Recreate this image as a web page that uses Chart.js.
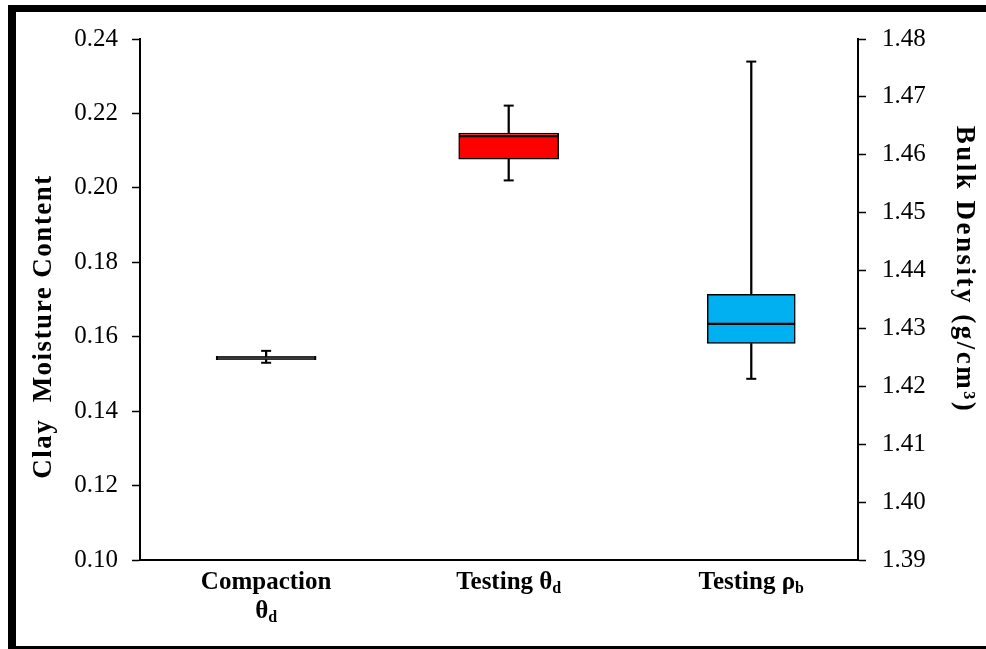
<!DOCTYPE html>
<html>
<head>
<meta charset="utf-8">
<script src="https://cdn.jsdelivr.net/npm/chart.js@4"></script>
<style>
  body { margin: 0; background: #fff; overflow: hidden; }
  #wrap { position: absolute; left: 0; top: 0; width: 986px; height: 649px; }
  #frame {
    position: absolute; left: 8px; top: 5px; width: 1000px; height: 634px;
    border-top: 7px solid #000; border-left: 8px solid #000; border-bottom: 7px solid #000;
    pointer-events: none;
  }
</style>
</head>
<body>
<div id="wrap"><canvas id="chart"></canvas></div>
<div id="frame"></div>
<script>
// categories, "_" marks a one-letter subscript
const categoryLines = [['Compaction', 'θ_d'], ['Testing θ_d'], ['Testing ρ_b']]
const categories = ['Compaction θd', 'Testing θd', 'Testing ρb']

// box statistics (first two on the moisture axis, last on the density axis)
const minValues = [0.1530, 0.2020, 1.4213]
const q1Values = [0.1538, 0.2077, 1.4274]
const medianValues = [0.1543, 0.2139, 1.4308]
const q3Values = [0.1547, 0.2147, 1.4359]
const maxValues = [0.1562, 0.2221, 1.4761]
const valueAxis = ['y', 'y', 'y2']
const boxColors = ['#000000', '#FF0000', '#00B0F0']

const moistureTicks = { min: 0.10, max: 0.24, step: 0.02 }
const densityTicks = { min: 1.39, max: 1.48, step: 0.01 }
const moistureTitle = 'Clay  Moisture Content'
const densityTitle = 'Bulk Density (g/cm³)'

const FONT = "'Liberation Serif', 'Times New Roman', serif"

// one point per category that belongs to this axis, x = category index
function pick(axis, fn) {
  return categories
    .map((_, i) => valueAxis[i] === axis ? { x: i, y: fn(i) } : null)
    .filter(p => p)
}

function colorsFor(axis) {
  return categories.map((_, i) => boxColors[i]).filter((_, i) => valueAxis[i] === axis)
}

function boxSets(axis, width) {
  const fill = colorsFor(axis)
  return [
    {
      type: 'bar', yAxisID: axis, grouped: false, order: 0,
      data: pick(axis, i => [q1Values[i], medianValues[i]]),
      backgroundColor: fill, borderColor: '#000', borderWidth: 1.5,
      borderSkipped: false, barThickness: width
    },
    {
      type: 'bar', yAxisID: axis, grouped: false, order: 0,
      data: pick(axis, i => [medianValues[i], q3Values[i]]),
      backgroundColor: fill, borderColor: '#000', borderWidth: 1.5,
      borderSkipped: false, barThickness: width
    },
    {
      type: 'bar', yAxisID: axis, grouped: false, order: 1,
      data: pick(axis, i => [minValues[i], q1Values[i]]),
      backgroundColor: '#000', borderWidth: 0, barThickness: 1.6
    },
    {
      type: 'bar', yAxisID: axis, grouped: false, order: 1,
      data: pick(axis, i => [q3Values[i], maxValues[i]]),
      backgroundColor: '#000', borderWidth: 0, barThickness: 1.6
    },
    {
      type: 'line', yAxisID: axis, order: 0, showLine: false,
      data: pick(axis, i => minValues[i]),
      pointStyle: 'line', pointRadius: 5, pointBorderWidth: 2, pointBorderColor: '#000'
    },
    {
      type: 'line', yAxisID: axis, order: 0, showLine: false,
      data: pick(axis, i => maxValues[i]),
      pointStyle: 'line', pointRadius: 5, pointBorderWidth: 2, pointBorderColor: '#000'
    }
  ]
}

// x labels with subscripts and the two rotated axis titles
const textLayer = {
  id: 'textLayer',
  afterDraw(chart) {
    const ctx = chart.ctx
    const area = chart.chartArea
    const xScale = chart.scales.x
    const mainFont = 'bold 25px ' + FONT
    const subFont = 'bold 16px ' + FONT
    ctx.save()
    ctx.fillStyle = '#000'
    ctx.textBaseline = 'middle'
    ctx.textAlign = 'left'
    categoryLines.forEach((lines, i) => {
      const cx = xScale.getPixelForValue(i)
      lines.forEach((line, j) => {
        const parts = line.split('_')
        const main = parts[0]
        const sub = parts.length > 1 ? parts[1] : ''
        ctx.font = mainFont
        const wMain = ctx.measureText(main).width
        ctx.font = subFont
        const wSub = sub ? ctx.measureText(sub).width : 0
        const x = cx - (wMain + wSub) / 2
        const y = xScale.top + 23 + j * 29
        ctx.font = mainFont
        ctx.fillText(main, x, y)
        if (sub) {
          ctx.font = subFont
          ctx.fillText(sub, x + wMain, y + 6)
        }
      })
    })

    const midY = (area.top + area.bottom) / 2
    ctx.textAlign = 'center'
    ctx.font = 'bold 27px ' + FONT

    ctx.save()
    ctx.letterSpacing = '1.5px'
    ctx.translate(chart.scales.y.left + 44, midY + 27)
    ctx.rotate(-Math.PI / 2)
    ctx.fillText(moistureTitle, 0, 0)
    ctx.restore()

    ctx.save()
    ctx.letterSpacing = '2.5px'
    ctx.translate(chart.scales.y2.right - 22, midY - 30)
    ctx.rotate(Math.PI / 2)
    ctx.fillText(densityTitle, 0, 0)
    ctx.restore()

    ctx.restore()
  }
}

new Chart(document.getElementById('chart'), {
  data: {
    datasets: [...boxSets('y', 100), ...boxSets('y2', 88)]
  },
  options: {
    responsive: true,
    maintainAspectRatio: false,
    animation: false,
    layout: { padding: { top: 39, left: 0, right: 0, bottom: 0 } },
    plugins: { legend: { display: false }, tooltip: { enabled: false } },
    scales: {
      x: {
        type: 'linear',
        min: -0.52, max: 2.44,
        offset: false,
        grid: { display: true, drawOnChartArea: false, drawTicks: false },
        border: { color: '#000', width: 2 },
        ticks: { display: false },
        afterFit: s => { s.height = 89 }
      },
      y: {
        position: 'left',
        min: moistureTicks.min, max: moistureTicks.max,
        ticks: {
          stepSize: moistureTicks.step, color: '#000', padding: 14,
          font: { family: FONT, size: 25 },
          callback: v => Number(v).toFixed(2)
        },
        grid: { drawOnChartArea: false, tickLength: 8, color: '#000', tickWidth: 1.5 },
        border: { color: '#000', width: 2 },
        afterFit: s => { s.width = 140 }
      },
      y2: {
        position: 'right',
        min: densityTicks.min, max: densityTicks.max,
        ticks: {
          stepSize: densityTicks.step, color: '#000', padding: 16,
          font: { family: FONT, size: 25 },
          callback: v => Number(v).toFixed(2)
        },
        grid: { drawOnChartArea: false, tickLength: 8, color: '#000', tickWidth: 1.5 },
        border: { color: '#000', width: 2 },
        afterFit: s => { s.width = 128 }
      }
    }
  },
  plugins: [textLayer]
})
</script>
</body>
</html>
